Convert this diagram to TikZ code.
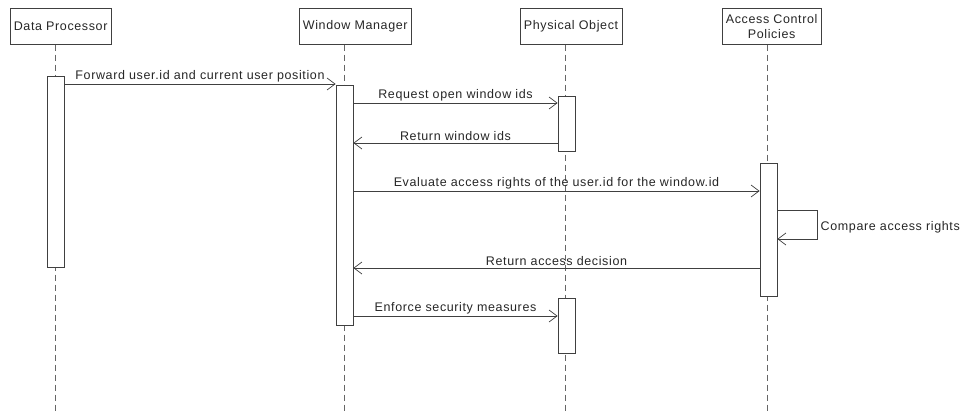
\documentclass[tikz,border=0pt]{standalone}
\usepackage{fontspec}
\setmainfont{Liberation Sans}[LetterSpace=5]
\usetikzlibrary{arrows.meta}
\begin{document}
\begin{tikzpicture}[
		x=1pt,y=-1pt,
		font=\fontsize{12.5}{14.5}\selectfont,
		line width=0.7pt,
		actor/.style={draw=black!75,rectangle,anchor=north west,minimum height=36pt,align=center,inner xsep=4pt,inner ysep=1pt,text=black!85},
		lifeline/.style={draw=black!60,dash pattern=on 6pt off 4pt},
		activation/.style={draw=black!75,fill=white,rectangle,minimum width=17pt,inner sep=0pt,anchor=north},
		msg/.style={draw=black!75,-{Straight Barb[length=8pt,width=12pt]}},
		lbl/.style={above,inner sep=2pt,text=black!85}
		]
		\useasboundingbox (0,0) rectangle (964,412);
		\node[actor] (dp) at (9.5,8) {Data Processor};
		\node[actor] (wm) at (298.5,8) {Window Manager};
		\node[actor] (po) at (519.5,8) {Physical Object};
		\node[actor] (acp) at (721.5,8) {Access Control\\Policies};
		\foreach \n in {dp,wm,po,acp}
			\draw[lifeline] ([xshift=46pt]\n.south west) -- ++(0,397);
		\node[activation,minimum height=191pt] (dpact) at (55.5,76) {};
		\node[activation,minimum height=240pt] (wmact) at (344.5,85) {};
		\node[activation,minimum height=55pt] (poact) at (566.5,96) {};
		\node[activation,minimum height=133pt] (acpact) at (768.5,163) {};
		\node[activation,minimum height=55pt] (poact2) at (566.5,298) {};
		\coordinate (m1) at (0,84);
		\coordinate (m2) at (0,103);
		\coordinate (m3) at (0,143);
		\coordinate (m4) at (0,191);
		\coordinate (s1) at (0,210);
		\coordinate (s2) at (0,239);
		\coordinate (m6) at (0,268);
		\coordinate (m7) at (0,316);
		\draw[msg] (dpact.east |- m1) -- node[lbl] {Forward user.id and current user position} (wmact.west |- m1);
		\draw[msg] (wmact.east |- m2) -- node[lbl] {Request open window ids} (poact.west |- m2);
		\draw[msg] (poact.west |- m3) -- node[lbl] {Return window ids} (wmact.east |- m3);
		\draw[msg] (wmact.east |- m4) -- node[lbl] {Evaluate access rights of the user.id for the window.id} (acpact.west |- m4);
		\draw[msg] (acpact.east |- s1) -- ++(40,0) |- node[pos=0.3,right,inner sep=3pt,text=black!85] {Compare access rights} (acpact.east |- s2);
		\draw[msg] (acpact.west |- m6) -- node[lbl] {Return access decision} (wmact.east |- m6);
		\draw[msg] (wmact.east |- m7) -- node[lbl] {Enforce security measures} (poact2.west |- m7);
\end{tikzpicture}
\end{document}
